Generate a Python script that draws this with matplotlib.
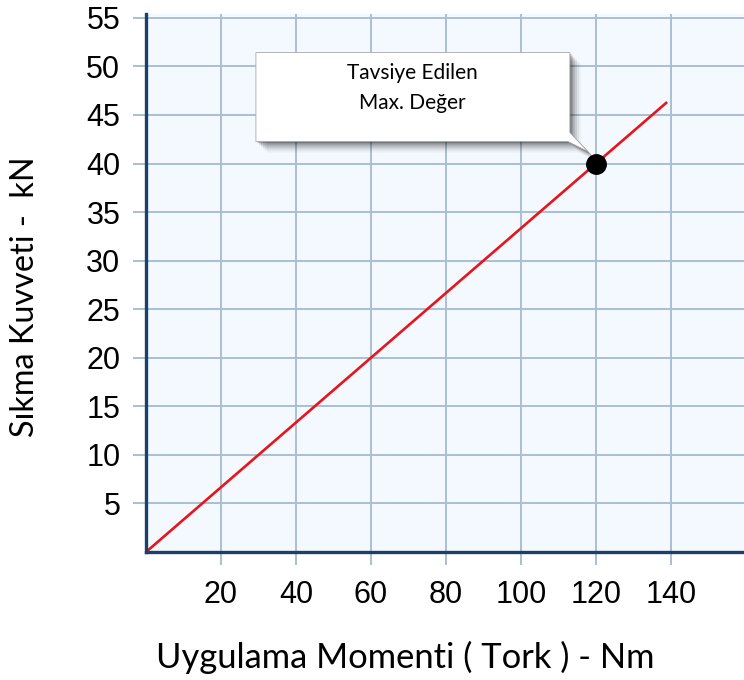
import numpy as np
import matplotlib.pyplot as plt
from matplotlib.patches import Polygon

# data
torque = [0, 139]                 # Nm
force = [0, 139 / 3]              # kN (40 kN at 120 Nm)
max_point = (120, 40)
x_ticks = [20, 40, 60, 80, 100, 120, 140]
y_ticks = [5, 10, 15, 20, 25, 30, 35, 40, 45, 50, 55]
callout_lines = ['Tavsiye Edilen', 'Max. Değer']

grid_col = '#a9bfd5'
spine_col = '#1d3f6e'

fig = plt.figure(figsize=(7.44, 6.8), dpi=100)
ax = fig.add_axes([146 / 744, 1 - 552 / 680, 1 - 146 / 744, (552 - 14) / 680])
ax.set_facecolor('#f3f9fe')

ax.plot(torque, force, color='#e8141c', lw=1.9, zorder=3, solid_capstyle='butt')

ax.set_xlim(0, 159.5)
ax.set_ylim(0, 55.4)
ax.set_xticks(x_ticks)
ax.set_yticks(y_ticks)
ax.set_xticklabels([str(v) for v in x_ticks], fontsize=22, family='Liberation Sans')
ax.set_yticklabels([str(v) for v in y_ticks], fontsize=22, family='Liberation Sans')
ax.tick_params(axis='x', length=9, width=1.4, color=grid_col, pad=11)
ax.tick_params(axis='y', length=9.5, width=1.4, color=grid_col, pad=9)
ax.grid(True, color=grid_col, lw=1.4, zorder=1)
ax.set_axisbelow(True)

for s in ['top', 'right']:
    ax.spines[s].set_visible(False)
for s in ['left', 'bottom']:
    ax.spines[s].set_color(spine_col)
    ax.spines[s].set_linewidth(2.4)
    ax.spines[s].set_zorder(4)

ax.set_xlabel('Uygulama Momenti ( Tork ) - Nm', fontsize=24.8, family='Lato', labelpad=20)
ax.xaxis.set_label_coords((405 - 146) / (744 - 146), -0.1)
ax.xaxis.label.set_va('center')
ax.xaxis.label.set_y(0)
ax.xaxis.set_label_coords((405 - 146) / (744 - 146), -(657 - 552) / (552 - 14))
ax.set_ylabel('Sıkma Kuvveti -  kN', fontsize=23.3, family='Lato')
ax.yaxis.label.set_va('center')
ax.yaxis.set_label_coords(-(146 - 25) / (744 - 146), (552 - 297) / (552 - 14))

# callout box, drawn in pixel offsets from the marked point
fig.canvas.draw()
px, py = ax.transData.transform(max_point)
# offsets: (dx, dy) in pixels relative to point, y up
box = [(-340, 111), (-26, 111), (-26, 31), (-8, 12), (-28, 22), (-340, 22)]
inv = fig.transFigure.inverted()


def to_fig(pts, ox=0, oy=0):
    return [inv.transform((px + dx + ox, py + dy - oy)) for dx, dy in pts]


for k, a in [(11, 0.04), (9, 0.06), (7, 0.09), (5, 0.12), (3, 0.16), (1.5, 0.2)]:
    fig.patches.append(Polygon(to_fig(box, k, k), closed=True, facecolor='black',
                               edgecolor='none', alpha=a, transform=fig.transFigure, zorder=5))
fig.patches.append(Polygon(to_fig(box), closed=True, facecolor='white', edgecolor='#a8a8a8',
                           lw=0.6, transform=fig.transFigure, zorder=6))

ax.plot(*max_point, 'o', ms=14, color='black', zorder=7)

tx, _ = inv.transform((px - 184, 0))
for i, line in enumerate(callout_lines):
    _, ty = inv.transform((0, py + 91 - i * 30))
    fig.text(tx, ty, line, fontsize=15, family='Lato', ha='center', va='center', zorder=8)

fig.savefig('out.png', dpi=100)
